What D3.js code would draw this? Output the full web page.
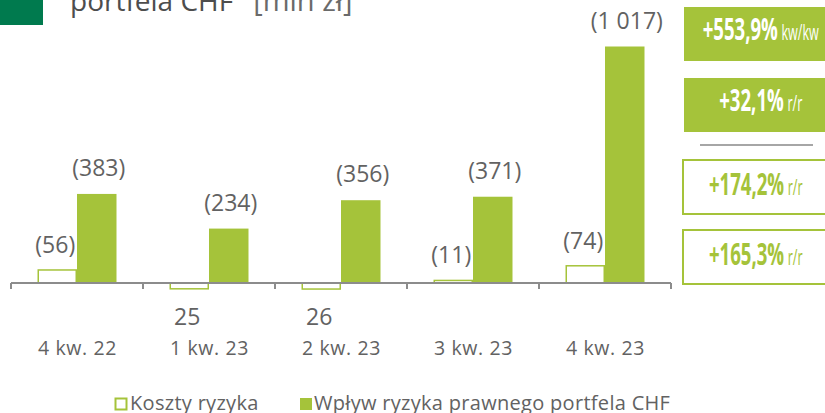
<!DOCTYPE html>
<html>
<head>
<meta charset="utf-8" />
<title>Wpływ ryzyka prawnego portfela CHF</title>
<style>
  body { margin: 0; background: #fff; }
  svg { display: block; }
  text { font-family: "Open Sans", "Lato", sans-serif; }
</style>
</head>
<body>
<svg width="825" height="413"></svg>

<script src="https://cdn.jsdelivr.net/npm/d3@7/dist/d3.min.js"></script>
<script>
// data
var categories = ['4 kw. 22', '1 kw. 23', '2 kw. 23', '3 kw. 23', '4 kw. 23'];
var kosztyRyzyka = [56, -25, -26, 11, 74];
var wplywChf = [383, 234, 356, 371, 1017];
var seriesNames = ['Koszty ryzyka', 'Wpływ ryzyka prawnego portfela CHF'];
var badgeValues = ['+553,9%', '+32,1%', '+174,2%', '+165,3%'];
var badgeUnits = ['kw/kw', 'r/r', 'r/r', 'r/r'];
var badgeFilled = [true, true, false, false];

var green = '#a5c33a';
var grey = '#626262';

var svg = d3.select('svg');

// title (cut off at the top)
svg.append('rect').attr('x', 0).attr('y', 0).attr('width', 43).attr('height', 25).attr('fill', '#007a4e');
var title = svg.append('text').attr('x', 70).attr('y', 11).attr('font-size', 28);
title.append('tspan').attr('fill', '#4d4d4d').text('portfela CHF');
title.append('tspan').attr('fill', '#6a6a6a').attr('font-size', 29).attr('dx', 20).text('[mln zł]');

// scales
var x = d3.scaleBand().domain(categories).range([11, 671]);
var sub = d3.scaleBand().domain([0, 1]).range([26.5, 105.5]);
var y = d3.scaleLinear().domain([0, 1017]).range([283, 46.5]);

var rows = categories.map(function (c, i) {
    return { cat: c, k: kosztyRyzyka[i], w: wplywChf[i] };
});

function fmt(v) {
    return d3.format(',')(Math.abs(v)).replace(/,/g, ' ');
}

// Wpływ bars
svg.append('g').selectAll('rect')
    .data(rows).enter().append('rect')
    .attr('x', function (d) { return x(d.cat) + sub(1); })
    .attr('width', sub.bandwidth())
    .attr('y', function (d) { return y(d.w); })
    .attr('height', function (d) { return y(0) - y(d.w); })
    .attr('fill', green);

// Koszty bars (outlined)
svg.append('g').selectAll('rect')
    .data(rows).enter().append('rect')
    .attr('x', function (d) { return x(d.cat) + sub(0) + 0.75; })
    .attr('width', sub.bandwidth() - 1.5)
    .attr('y', function (d) { return Math.min(y(d.k), y(0)); })
    .attr('height', function (d) { return Math.abs(y(0) - y(d.k)); })
    .attr('fill', '#fff')
    .attr('stroke', green)
    .attr('stroke-width', 1.5);

// axis
var axis = d3.axisBottom(x).tickSize(0).tickFormat('');
var gAxis = svg.append('g').attr('transform', 'translate(0,' + y(0) + ')').call(axis);
gAxis.select('.domain').attr('stroke', '#8c8c8c').attr('stroke-width', 2).attr('d', 'M11,0H671');
var bounds = categories.map(function (c) { return x(c); }).concat([x.range()[1]]);
gAxis.selectAll('.bound').data(bounds).enter().append('line')
    .attr('x1', function (d) { return d; }).attr('x2', function (d) { return d; })
    .attr('y1', 0).attr('y2', 6)
    .attr('stroke', '#8c8c8c').attr('stroke-width', 2);

// category labels
svg.append('g').selectAll('text')
    .data(categories).enter().append('text')
    .attr('x', function (d) { return x(d) + x.bandwidth() / 2 + 0.5; })
    .attr('y', 355)
    .attr('text-anchor', 'middle')
    .attr('font-size', 19.5)
    .attr('letter-spacing', 0.6)
    .attr('fill', grey)
    .text(function (d) { return d; });

// value labels
svg.append('g').selectAll('text')
    .data(rows).enter().append('text')
    .attr('x', function (d) { return x(d.cat) + sub(1) + sub.bandwidth() / 2 + 2; })
    .attr('y', function (d) { return y(d.w) - 18; })
    .attr('text-anchor', 'middle')
    .attr('font-size', 23)
    .attr('fill', grey)
    .text(function (d) { return '(' + fmt(d.w) + ')'; });

svg.append('g').selectAll('text')
    .data(rows).enter().append('text')
    .attr('x', function (d) { return x(d.cat) + sub(0) + sub.bandwidth() / 2 - 2; })
    .attr('y', function (d) { return d.k >= 0 ? y(d.k) - 17 : 325; })
    .attr('text-anchor', 'middle')
    .attr('font-size', 23)
    .attr('fill', grey)
    .text(function (d) { return d.k >= 0 ? '(' + fmt(d.k) + ')' : fmt(d.k); });

// badges on the right
var badgeTops = [7, 78, 160, 230];
var badges = svg.append('g').selectAll('g')
    .data(badgeValues).enter().append('g')
    .attr('transform', function (d, i) { return 'translate(0,' + badgeTops[i] + ')'; });

badges.append('rect')
    .attr('x', function (d, i) { return badgeFilled[i] ? 684 : 683; })
    .attr('y', 0)
    .attr('width', 160)
    .attr('height', 54)
    .attr('fill', function (d, i) { return badgeFilled[i] ? green : '#fff'; })
    .attr('stroke', function (d, i) { return badgeFilled[i] ? 'none' : green; })
    .attr('stroke-width', 2);

badges.each(function (d, i) {
    var g = d3.select(this);
    var col = badgeFilled[i] ? '#fff' : green;
    var t = g.append('text')
        .attr('y', i < 2 ? 33 : 35)
        .attr('fill', col)
        .attr('font-family', 'Roboto, sans-serif')
        .attr('font-weight', 'bold');
    t.append('tspan').attr('font-size', 31).text(d);
    t.append('tspan').attr('font-size', 21).attr('font-weight', 'normal').attr('dx', 6).text(badgeUnits[i]);
    var sx = 0.6;
    var w = t.node().getComputedTextLength() * sx;
    var cx = i < 2 ? 759 : 754;
    t.attr('transform', 'translate(' + (cx - w / 2) + ',0) scale(' + sx + ',1)');
});

svg.append('line').attr('x1', 700).attr('x2', 813).attr('y1', 145).attr('y2', 145)
    .attr('stroke', '#a6a6a6').attr('stroke-width', 2);

// legend
var legend = svg.append('g');
legend.append('rect').attr('x', 115.5).attr('y', 398.5).attr('width', 11).attr('height', 11)
    .attr('fill', '#fff').attr('stroke', green).attr('stroke-width', 2);
legend.append('text').attr('x', 130).attr('y', 410).attr('font-size', 20)
    .attr('letter-spacing', 0.3)
    .attr('fill', grey).text(seriesNames[0]);
legend.append('rect').attr('x', 300).attr('y', 398).attr('width', 12).attr('height', 12).attr('fill', green);
legend.append('text').attr('x', 314).attr('y', 410).attr('font-size', 20)
    .attr('letter-spacing', 0.3)
    .attr('fill', grey).text(seriesNames[1]);
</script>
</body>
</html>
